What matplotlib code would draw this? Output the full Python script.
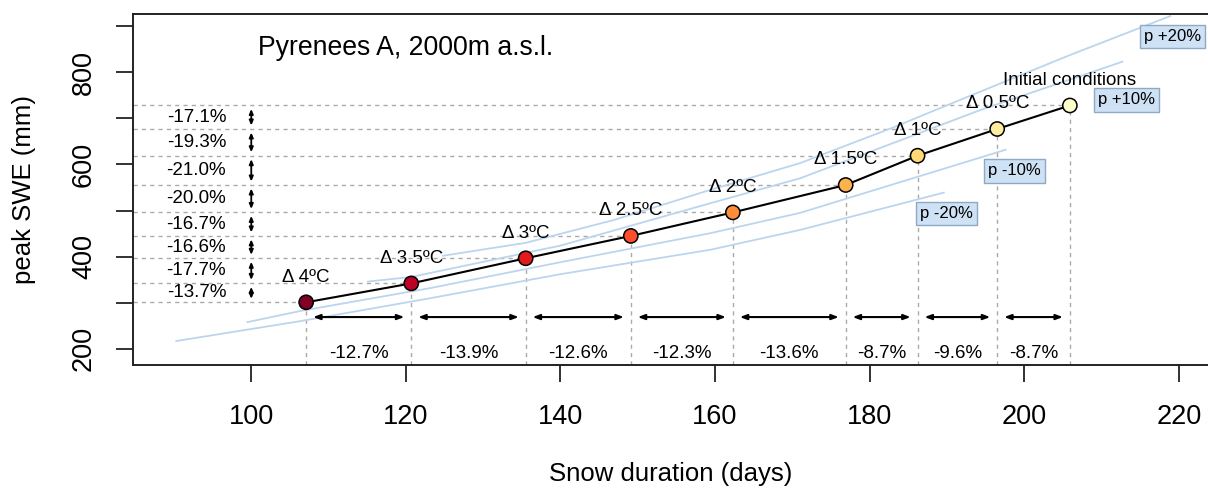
import matplotlib
matplotlib.use('Agg')
import matplotlib.pyplot as plt

plt.rcParams['font.family'] = ['Liberation Sans', 'DejaVu Sans']

# ---------------- data ----------------
days = [107.1, 120.7, 135.5, 149.1, 162.3, 176.9, 186.2, 196.5, 205.9]
swe = [301, 342, 396.5, 445, 496, 555.5, 619, 677, 728]
point_labels = ['Δ 4ºC', 'Δ 3.5ºC', 'Δ 3ºC', 'Δ 2.5ºC', 'Δ 2ºC',
                'Δ 1.5ºC', 'Δ 1ºC', 'Δ 0.5ºC', 'Initial conditions']
point_colors = ['#800026', '#bd0026', '#e31a1c', '#fc4e2a', '#fd8d3c',
                '#feb24c', '#fed976', '#ffeda0', '#ffffcc']
swe_pct = ['-13.7%', '-17.7%', '-16.6%', '-16.7%', '-20.0%', '-21.0%', '-19.3%', '-17.1%']
dur_pct = ['-12.7%', '-13.9%', '-12.6%', '-12.3%', '-13.6%', '-8.7%', '-9.6%', '-8.7%']

p_plus20_days = [124.8, 135.5, 147.0, 159.4, 171.0, 183.0, 194.3, 206.0, 218.9]
p_plus20_swe = [402, 430, 480, 545, 603, 680, 758, 838, 922]
p_plus10_days = [115.1, 120.7, 140.0, 159.4, 171.0, 194.3, 212.7]
p_plus10_swe = [346, 356, 424, 516, 570, 718, 823]
p_minus10_days = [99.5, 106.3, 123.2, 140.0, 159.4, 171.0, 197.6]
p_minus10_swe = [258, 282, 332, 388, 451, 495, 632]
p_minus20_days = [90.3, 106.3, 123.2, 140.0, 159.4, 171.0, 189.6]
p_minus20_swe = [217, 260, 310, 362, 415, 458, 539]

xticks = [100, 120, 140, 160, 180, 200, 220]
yticks = [200, 300, 400, 500, 600, 700, 800, 900]
ytick_labels = ['200', '', '400', '', '600', '', '800', '']

XMIN, XMAX = 84.7, 223.9
YMIN, YMAX = 165, 925.8

# ---------------- figure ----------------
W, H = 1208, 488
fig = plt.figure(figsize=(W / 100, H / 100), dpi=100)
ax = fig.add_axes([133 / W, 123 / H, (1209 - 133) / W, 350.7 / H])
ax.set_xlim(XMIN, XMAX)
ax.set_ylim(YMIN, YMAX)

for s in ['left', 'bottom', 'top']:
    ax.spines[s].set_linewidth(1.4)
    ax.spines[s].set_color('#222222')
ax.spines['right'].set_visible(False)

ax.set_xticks(xticks)
ax.set_xticklabels([str(v) for v in xticks])
ax.set_yticks(yticks)
ax.set_yticklabels(ytick_labels)
ax.tick_params(axis='both', length=12, width=1.3, color='#222222', labelsize=19.5)
ax.tick_params(axis='x', pad=16)
ax.tick_params(axis='y', pad=14)
for lbl in ax.get_yticklabels():
    lbl.set_rotation(90)
    lbl.set_va('center')

# precipitation sensitivity curves
blue = '#bcd5ee'
for dx, dy in [(p_plus20_days, p_plus20_swe), (p_plus10_days, p_plus10_swe),
               (p_minus10_days, p_minus10_swe), (p_minus20_days, p_minus20_swe)]:
    ax.plot(dx, dy, color=blue, lw=1.3, zorder=1)

# guide lines
dash = dict(color='#aaaaaa', lw=1.0, linestyles=(0, (3, 3)), zorder=0.5)
ax.hlines(swe, XMIN, days, **dash)
ax.vlines(days, YMIN, swe, **dash)

# main line + points
ax.plot(days, swe, color='black', lw=1.5, zorder=3)
ax.scatter(days, swe, s=105, c=point_colors, edgecolors='black', linewidths=1.1, zorder=4)

for x, y, t in zip(days, swe, point_labels):
    ax.annotate(t, (x, y), xytext=(0, 18), textcoords='offset points',
                ha='center', va='center', fontsize=13.5, zorder=5)

# vertical arrows + SWE percentages
varr = dict(arrowstyle='<|-|>,head_length=0.28,head_width=0.12', color='black',
            lw=1.3, mutation_scale=10, shrinkA=2.5, shrinkB=2.5)
for i, t in enumerate(swe_pct):
    ax.annotate('', xy=(100, swe[i]), xytext=(100, swe[i + 1]), arrowprops=varr)
    ax.text(92.9, (swe[i] + swe[i + 1]) / 2, t, ha='center', va='center', fontsize=13.5)

# horizontal arrows + duration percentages
harr = dict(arrowstyle='<|-|>,head_length=0.4,head_width=0.15', color='black',
            lw=1.5, mutation_scale=10, shrinkA=5, shrinkB=5)
for i, t in enumerate(dur_pct):
    ax.annotate('', xy=(days[i], 269), xytext=(days[i + 1], 269), arrowprops=harr)
    ax.text((days[i] + days[i + 1]) / 2, 189, t, ha='center', va='center', fontsize=13.5)

# precipitation labels
box = dict(boxstyle='square,pad=0.25', fc='#cfe2f5', ec='#8fa9c4', lw=1.0)
ax.text(222.9, 877, 'p +20%', ha='right', va='center', fontsize=12, bbox=box, zorder=6)
ax.text(213.2, 740, 'p +10%', ha='center', va='center', fontsize=12, bbox=box, zorder=6)
ax.text(198.7, 586, 'p -10%', ha='center', va='center', fontsize=12, bbox=box, zorder=6)
ax.text(189.9, 493, 'p -20%', ha='center', va='center', fontsize=12, bbox=box, zorder=6)

ax.text(100.9, 852.7, 'Pyrenees A, 2000m a.s.l.', ha='left', va='center', fontsize=19.2)

fig.text(24 / W, 1 - 189.6 / H, 'peak SWE (mm)', rotation=90, ha='center', va='center',
         fontsize=18.5)
fig.text(670.5 / W, 1 - 474 / H, 'Snow duration (days)', ha='center', va='center',
         fontsize=18.5)

fig.savefig('out.png', dpi=100)
